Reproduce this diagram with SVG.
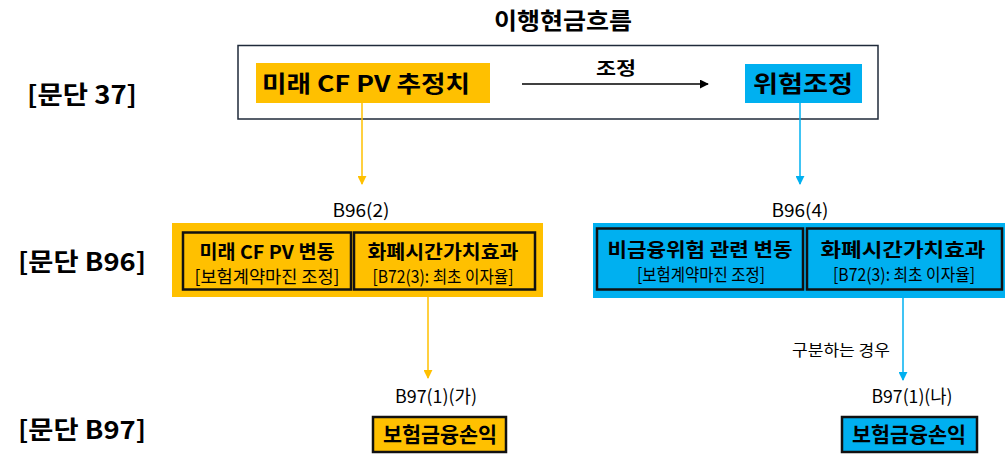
<svg xmlns="http://www.w3.org/2000/svg" width="1005" height="460" viewBox="0 0 1005 460">
<style>
text{font-family:"Noto Sans CJK KR","Malgun Gothic",sans-serif;fill:#000}
.b{font-weight:bold}
.lab{font-size:25px;font-weight:bold;text-anchor:middle}
.ref{font-size:18px;text-anchor:middle}
.t1{font-size:19px;font-weight:bold;text-anchor:middle}
.t2{font-size:17.5px;text-anchor:middle}
.y{fill:#FFC000}
.bl{fill:#00B0F0}
.inner{fill:none;stroke:#111;stroke-width:2.5}
</style>
<defs>
<marker id="ay" viewBox="0 0 10 10" refX="9" refY="5" markerWidth="6" markerHeight="6" orient="auto"><path d="M0,0L10,5L0,10z" fill="#FFC000"/></marker>
<marker id="ab" viewBox="0 0 10 10" refX="9" refY="5" markerWidth="6" markerHeight="6" orient="auto"><path d="M0,0L10,5L0,10z" fill="#00B0F0"/></marker>
<marker id="ak" viewBox="0 0 10 10" refX="9" refY="5" markerWidth="6" markerHeight="6" orient="auto"><path d="M0,0L10,5L0,10z" fill="#000"/></marker>
</defs>

<g id="title"><text x="563" y="29" class="b" font-size="23" text-anchor="middle" textLength="138" lengthAdjust="spacingAndGlyphs">이행현금흐름</text></g>

<g id="labels">
<text x="82" y="104" class="lab" textLength="110" lengthAdjust="spacingAndGlyphs">[문단 37]</text>
<text x="82" y="271" class="lab" textLength="128" lengthAdjust="spacingAndGlyphs">[문단 B96]</text>
<text x="82" y="439" class="lab" textLength="128" lengthAdjust="spacingAndGlyphs">[문단 B97]</text>
</g>

<g id="frame37"><rect x="238" y="45.5" width="640" height="73.5" fill="#fff" stroke="#1F2A3A" stroke-width="1.5"/></g>

<g id="pv-estimate">
<rect x="256" y="63" width="234" height="40" class="y"/>
<text x="366" y="92" class="b" font-size="23" text-anchor="middle" textLength="208" lengthAdjust="spacingAndGlyphs">미래 CF PV 추정치</text>
</g>

<g id="risk-adj">
<rect x="745" y="64" width="117" height="39" class="bl"/>
<text x="803" y="92" class="b" font-size="23" text-anchor="middle" textLength="100" lengthAdjust="spacingAndGlyphs">위험조정</text>
</g>

<g id="b96-yellow">
<rect x="172" y="223" width="371" height="74" class="y"/>
<rect x="183" y="232.5" width="168" height="57" class="inner"/>
<text x="267" y="259" class="t1" textLength="135" lengthAdjust="spacingAndGlyphs">미래 CF PV 변동</text>
<text x="267" y="283" class="t2" textLength="145" lengthAdjust="spacingAndGlyphs">[보험계약마진 조정]</text>
<rect x="354" y="232.5" width="181" height="57" class="inner"/>
<text x="443" y="259" class="t1" textLength="151" lengthAdjust="spacingAndGlyphs">화폐시간가치효과</text>
<text x="443" y="283" class="t2" textLength="141" lengthAdjust="spacingAndGlyphs">[B72(3): 최초 이자율]</text>
</g>

<g id="b96-blue">
<rect x="593" y="223" width="412" height="75" class="bl"/>
<rect x="597" y="228.5" width="206" height="61" class="inner"/>
<text x="700" y="257" class="t1" textLength="185" lengthAdjust="spacingAndGlyphs">비금융위험 관련 변동</text>
<text x="701" y="281" class="t2" textLength="128" lengthAdjust="spacingAndGlyphs">[보험계약마진 조정]</text>
<rect x="807" y="228.5" width="195" height="61" class="inner"/>
<text x="903" y="257" class="t1" textLength="165" lengthAdjust="spacingAndGlyphs">화폐시간가치효과</text>
<text x="904" y="281" class="t2" textLength="142" lengthAdjust="spacingAndGlyphs">[B72(3): 최초 이자율]</text>
</g>

<g id="pl-yellow">
<rect x="373" y="417" width="133" height="35" class="y" stroke="#111" stroke-width="2.5"/>
<text x="440" y="442" class="b" font-size="21" text-anchor="middle" textLength="114" lengthAdjust="spacingAndGlyphs">보험금융손익</text>
</g>

<g id="pl-blue">
<rect x="842" y="417" width="135" height="35" class="bl" stroke="#111" stroke-width="2.5"/>
<text x="909" y="442" class="b" font-size="21" text-anchor="middle" textLength="114" lengthAdjust="spacingAndGlyphs">보험금융손익</text>
</g>

<g id="connectors" fill="none" stroke-width="1.5">
<line x1="522" y1="84" x2="708" y2="84" stroke="#000" marker-end="url(#ak)"/>
<line x1="362" y1="103" x2="362" y2="184" stroke="#FFC000" marker-end="url(#ay)"/>
<line x1="800" y1="103" x2="800" y2="184" stroke="#00B0F0" marker-end="url(#ab)"/>
<line x1="428" y1="297" x2="428" y2="378" stroke="#FFC000" marker-end="url(#ay)"/>
<line x1="903" y1="298" x2="903" y2="380" stroke="#00B0F0" marker-end="url(#ab)"/>
</g>

<g id="connector-labels">
<text x="616" y="75" class="b" font-size="18" text-anchor="middle" textLength="40" lengthAdjust="spacingAndGlyphs">조정</text>
<text x="361" y="217" class="ref" textLength="57" lengthAdjust="spacingAndGlyphs">B96(2)</text>
<text x="800" y="217" class="ref" textLength="57" lengthAdjust="spacingAndGlyphs">B96(4)</text>
<text x="841" y="356" font-size="16" text-anchor="middle" textLength="98" lengthAdjust="spacingAndGlyphs">구분하는 경우</text>
<text x="436" y="403" class="ref" textLength="82" lengthAdjust="spacingAndGlyphs">B97(1)(가)</text>
<text x="912" y="403" class="ref" textLength="81" lengthAdjust="spacingAndGlyphs">B97(1)(나)</text>
</g>
</svg>
